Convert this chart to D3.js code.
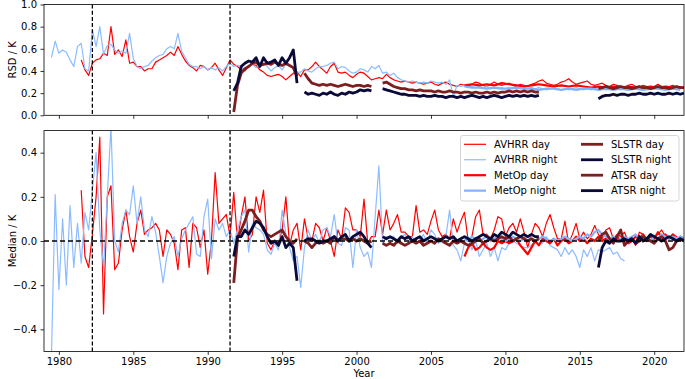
<!DOCTYPE html>
<html>
<head>
<meta charset="utf-8">
<script src="https://cdn.jsdelivr.net/npm/d3@7"></script>
<style>
  body { margin: 0; background: #fff; }
  svg { font-family: "DejaVu Sans", sans-serif; }
</style>
</head>
<body>
<div id="chart"></div>
<script>
// quarterly samples, x = start + i * step (years)
const xTicks = [1980, 1985, 1990, 1995, 2000, 2005, 2010, 2015, 2020];
const rsdTicks = [0, 0.2, 0.4, 0.6, 0.8, 1.0];
const medianTicks = [-0.4, -0.2, 0, 0.2, 0.4];
const splitYears = [1982.25, 1991.5];

// ---- RSD (top panel) ----
const avhrrDayRsd = [
  0.50, 0.41,
  0.36, 0.47, 0.50, 0.51,  0.56, 0.54, 0.80, 0.55,  0.59, 0.53, 0.68, 0.47,
  0.48, 0.44, 0.44, 0.40,  0.42, 0.42, 0.48, 0.50,  0.52, 0.54, 0.57, 0.54,
  0.62, 0.55, 0.49, 0.45,  0.43, 0.40, 0.45, 0.44,  0.41, 0.43, 0.47, 0.41,
  0.36, 0.43, 0.50, 0.46,  0.44, 0.41, 0.40, 0.44,  0.46, 0.45, 0.41, 0.39,
  0.36, 0.35, 0.36, 0.37,  0.35, 0.32, 0.35, 0.38,  0.39, 0.35, 0.41, 0.41,
  0.44, 0.48, 0.44, 0.41,  0.38, 0.44, 0.47, 0.39,  0.38, 0.39, 0.36, 0.34,
  0.37, 0.39, 0.38, 0.35,  0.32, 0.33, 0.34, 0.33,  0.37, 0.34, 0.32, 0.31,
  0.30, 0.31, 0.30, 0.29,  0.30, 0.29, 0.28, 0.29,  0.30, 0.28, 0.27, 0.29,
  0.30, 0.28, 0.27, 0.26,  0.28, 0.27, 0.26, 0.28,  0.30, 0.29, 0.27, 0.26,
  0.28, 0.30, 0.28, 0.27,  0.28, 0.29, 0.27, 0.26,  0.28, 0.27, 0.26, 0.28,
  0.29, 0.31, 0.32, 0.29,  0.28, 0.27, 0.28, 0.30,  0.31, 0.33, 0.30, 0.28,
  0.29, 0.30, 0.31, 0.28,  0.27, 0.28, 0.29, 0.27,  0.26, 0.28, 0.27, 0.26,
  0.25, 0.27, 0.28, 0.26,  0.25, 0.27, 0.26, 0.25,  0.26, 0.28, 0.26, 0.25,
  0.26, 0.27, 0.25, 0.26,  0.25
];
const avhrrNightRsd = [
  0.52, 0.67,
  0.56, 0.59, 0.57, 0.50,  0.44, 0.62, 0.65, 0.42,  0.40, 0.77, 0.62, 0.80,
  0.55, 0.63, 0.64, 0.59,  0.56, 0.58, 0.56, 0.74,  0.51, 0.44, 0.42, 0.44,
  0.45, 0.49, 0.52, 0.54,  0.55, 0.60, 0.62, 0.60,  0.74, 0.58, 0.52, 0.46,
  0.44, 0.44, 0.42, 0.44,  0.41, 0.43, 0.41, 0.43,  0.40, 0.44, 0.47, 0.44,
  0.45, 0.44, 0.41, 0.44,  0.46, 0.43, 0.45, 0.47,  0.44, 0.40, 0.43, 0.45,
  0.41, 0.46, 0.45, 0.42,  0.39, 0.39, 0.42, 0.40,  0.39, 0.42, 0.44, 0.44,
  0.45, 0.47, 0.48, 0.42,  0.44, 0.43, 0.40, 0.38,  0.39, 0.42, 0.41, 0.39,
  0.44, 0.42, 0.45, 0.38,  0.39, 0.36, 0.38, 0.34,  0.32, 0.31, 0.30, 0.31,
  0.30, 0.29, 0.30, 0.29,  0.31, 0.30, 0.29, 0.30,  0.28, 0.32, 0.17, 0.27,
  0.26, 0.27, 0.25, 0.26,  0.27, 0.26, 0.25, 0.26,  0.24, 0.25, 0.24, 0.25,
  0.24, 0.25, 0.24, 0.25,  0.24, 0.25, 0.24, 0.25,  0.24, 0.25, 0.24, 0.23,
  0.24, 0.25, 0.24, 0.23,  0.24, 0.23, 0.24, 0.25,  0.24, 0.23, 0.24, 0.23,
  0.24, 0.25, 0.24, 0.23,  0.24, 0.25, 0.24, 0.23,  0.24
];
const metopDayRsd = [
  0.27, 0.28, 0.27, 0.28, 0.27, 0.29, 0.28, 0.27, 0.26, 0.27,
  0.28, 0.27, 0.26, 0.27, 0.26, 0.27, 0.26, 0.25, 0.26, 0.25,
  0.26, 0.25, 0.26, 0.25, 0.25, 0.26, 0.25, 0.26, 0.25, 0.25
];
const metopNightRsd = [
  0.26, 0.25, 0.25, 0.24, 0.25, 0.24, 0.24, 0.25, 0.24, 0.24,
  0.23, 0.24, 0.24, 0.23, 0.24, 0.23, 0.24, 0.24, 0.23, 0.24,
  0.23, 0.24, 0.23, 0.24, 0.23, 0.24, 0.24, 0.23, 0.24, 0.23
];
const atsrDayRsd = [
  0.03,
  0.27, 0.38, 0.42, 0.44,  0.47, 0.48, 0.45, 0.46,  0.47, 0.46, 0.48, 0.46,
  0.45, 0.47, 0.45, 0.43,  0.35, null, 0.38, 0.33,  0.29, 0.28, 0.27, 0.28,
  0.27, 0.28, 0.27, 0.26,  0.27, 0.28, 0.27, 0.26,  0.27, 0.27, 0.26, 0.27,
  0.26, null, null, 0.29,  0.30, 0.28, 0.26, 0.25,  0.24, 0.24, 0.23, 0.23,
  0.22, 0.23, 0.22, 0.22,  0.22, 0.21, 0.22, 0.21,  0.21, 0.22, 0.21, 0.21,
  0.20, 0.21, 0.21, 0.20,  0.21, 0.20, 0.20, 0.21,  0.20, 0.21, 0.20, 0.21,
  0.21, 0.22, 0.21, 0.22,  0.21, 0.22, 0.21, 0.22,  0.21, 0.21
];
const atsrNightRsd = [
  0.22,
  0.29, 0.44, 0.47, 0.49,  0.48, 0.52, 0.44, 0.52,  0.47, 0.48, 0.50, 0.45,
  0.52, 0.47, 0.52, 0.59,  0.29, null, 0.21, 0.19,  0.20, 0.19, 0.18, 0.20,
  0.19, 0.21, 0.19, 0.18,  0.20, 0.19, 0.21, 0.20,  0.21, 0.23, 0.22, 0.23,
  0.22, null, null, 0.24,  0.23, 0.22, 0.21, 0.20,  0.19, 0.19, 0.18, 0.18,
  0.18, 0.17, 0.18, 0.17,  0.17, 0.18, 0.17, 0.17,  0.16, 0.17, 0.17, 0.16,
  0.17, 0.16, 0.17, 0.18,  0.17, 0.16, 0.17, 0.16,  0.17, 0.18, 0.17, 0.16,
  0.17, 0.18, 0.17, 0.18,  0.17, 0.18, 0.17, 0.18,  0.17, 0.18
];
const slstrDayRsd = [
  0.24, 0.25, 0.26, 0.25, 0.24, 0.25, 0.26, 0.25, 0.25, 0.24, 0.25, 0.26,
  0.25, 0.25, 0.24, 0.25, 0.26, 0.25, 0.25, 0.24, 0.25, 0.26, 0.25, 0.25
];
const slstrNightRsd = [
  0.15, 0.17, 0.18, 0.18, 0.19, 0.18, 0.19, 0.19, 0.18, 0.19, 0.19, 0.20,
  0.19, 0.19, 0.20, 0.19, 0.20, 0.19, 0.19, 0.20, 0.19, 0.20, 0.19, 0.20
];

// ---- Median (bottom panel) ----
const avhrrDayMedian = [
  0.23, -0.07,
  -0.12, 0.03, 0.20, 0.47,  -0.33, 0.20, 0.25, -0.13,  -0.10, 0.05, 0.14, 0.02,
  -0.05, 0.08, 0.14, 0.03,  0.05, 0.06, 0.08, 0.05,  -0.07, 0.05, 0.03, -0.01,
  -0.13, 0.05, 0.06, -0.12,  0.08, 0.06, -0.03, 0.05,  -0.15, 0.00, 0.31, 0.08,
  0.10, 0.12, 0.02, 0.22,  0.00, 0.11, 0.20, 0.00,  0.03, 0.20, 0.13, 0.23,
  -0.01, -0.04, 0.00, -0.01,  0.05, 0.20, -0.02, 0.05,  0.08, -0.04, 0.10, 0.01,
  0.00, 0.08, 0.06, 0.00,  0.06, 0.00, -0.07, 0.05,  0.01, 0.15, 0.13, 0.05,
  0.05, 0.02, 0.19, -0.01,  0.02, 0.02, 0.14, 0.03,  0.14, 0.05, 0.08, 0.12,
  0.04, 0.04, 0.02, 0.02,  0.16, 0.04, 0.05, 0.03,  0.09, 0.14, 0.05, 0.02,
  0.03, 0.01, 0.10, 0.04,  0.09, 0.13, 0.00, 0.02,  0.11, 0.14, 0.03, 0.03,
  0.01, 0.05, 0.11, 0.10,  0.02, 0.06, 0.08, 0.04,  0.10, 0.04, -0.03, 0.03,
  0.08, 0.06, 0.02, 0.08,  0.12, 0.06, 0.01, 0.01,  0.09, -0.01, 0.03, 0.08,
  0.01, 0.04, 0.01, 0.03,  0.07, 0.03, 0.01, 0.05,  0.06, 0.01, 0.03, 0.02,
  0.04, 0.00, 0.01, -0.02,  0.04, 0.03, 0.01, 0.02,  0.02, 0.03, 0.05, 0.02,
  0.01, 0.03, 0.02, 0.00,  0.01
];
const avhrrNightMedian = [
  -0.52, 0.21,
  -0.22, 0.10, -0.20, 0.16,  -0.12, 0.08, -0.10, 0.13,  0.05, 0.23, 0.40, 0.05,
  -0.12, 0.20, 0.52, 0.00,  -0.05, 0.08, 0.14, 0.12,  0.25, 0.08, 0.20, 0.05,
  0.02, 0.11, 0.04, -0.07,  -0.19, -0.07, -0.01, 0.02,  -0.07, 0.01, 0.05, 0.08,
  0.11, -0.06, -0.07, 0.11,  0.19, -0.08, 0.10, 0.05,  0.08, 0.02, 0.05, -0.01,
  0.05, 0.11, 0.14, -0.05,  0.08, 0.06, 0.05, 0.03,  -0.04, -0.06, -0.01, -0.04,
  0.14, 0.03, -0.03, -0.09,  -0.07, -0.21, -0.03, 0.05,  0.00, 0.03, -0.01, 0.05,
  0.06, 0.02, 0.12, -0.01,  -0.02, 0.06, 0.05, -0.12,  0.05, -0.03, -0.07, -0.05,
  -0.12, 0.11, 0.34, -0.01,  0.02, 0.01, 0.02, -0.01,  0.02, 0.03, 0.00, 0.02,
  -0.01, 0.00, 0.03, -0.01,  0.05, 0.03, -0.01, 0.00,  0.02, 0.14, -0.02, -0.04,
  -0.09, -0.01, 0.02, -0.04,  0.00, -0.07, -0.04, -0.01,  -0.07, -0.03, -0.09, -0.03,
  -0.04, -0.01, 0.00, -0.01,  -0.02, -0.03, -0.03, -0.02,  0.00, -0.01, -0.01, 0.02,
  -0.02, -0.03, -0.04, -0.07,  -0.03, -0.06, -0.04, -0.07,  -0.12, -0.04, -0.07, -0.03,
  -0.09, -0.04, -0.05, -0.04,  -0.03, -0.06, -0.05, -0.08,  -0.09
];
const metopDayMedian = [
  -0.07, -0.03, -0.01,
  -0.04, -0.03, -0.01, -0.03,  -0.04, -0.03, 0.00, -0.01,  0.00, -0.01, 0.00, 0.01,
  -0.02, -0.04, -0.06, -0.03,  0.00, -0.02, 0.01, 0.00,  -0.01, 0.01, -0.02, 0.00,
  0.01, -0.01, 0.00, 0.02,  0.00, 0.01, -0.01, 0.01,  0.00, 0.02, 0.00, 0.01,
  -0.01, 0.01, 0.02, 0.00,  0.01, -0.01, 0.00, 0.02,  0.01, 0.03, 0.00, 0.02,
  0.01, 0.04, 0.02, 0.03,  0.01, 0.03, 0.00, 0.02,  0.01
];
const metopNightMedian = [
  0.01, 0.00, 0.02,
  0.01, 0.00, 0.01, 0.02,  0.00, 0.01, 0.02, 0.01,  0.00, 0.01, 0.02, 0.01,
  0.00, 0.01, 0.02, 0.01,  0.00, 0.01, 0.02, 0.01,  0.00, 0.01, 0.00, 0.01,
  0.02, 0.01, 0.00, 0.01,  0.02, 0.01, 0.03, 0.02,  0.04, 0.05, 0.03, 0.02,
  0.01, 0.02, 0.00, 0.01,  0.02, 0.01, 0.02, 0.03,  0.01, 0.02, 0.01, 0.00,
  0.02, 0.01, 0.03, 0.02,  0.01, 0.02, 0.01, 0.02,  0.01
];
const atsrDayMedian = [
  -0.19,
  0.01, 0.05, 0.09, 0.14,  0.14, 0.11, 0.09, 0.05,  0.03, 0.02, 0.03, 0.04,
  0.05, 0.02, 0.00, -0.01,  0.01, null, 0.00, -0.01,  -0.03, -0.01, 0.00, -0.01,
  0.00, -0.01, 0.02, 0.00,  0.01, 0.01, 0.00, 0.01,  0.00, 0.01, 0.00, -0.01,
  0.00, null, null, -0.01,  -0.02, -0.01, -0.02, 0.00,  -0.01, -0.02, -0.01, 0.00,
  -0.01, 0.00, -0.02, -0.01,  0.00, -0.01, 0.01, 0.00,  -0.01, -0.02, 0.00, -0.01,
  0.00, -0.01, -0.02, -0.01,  0.00, 0.01, -0.01, 0.00,  0.01, 0.00, 0.01, 0.02,
  0.01, 0.02, 0.00, 0.01,  0.02, 0.01, 0.00, 0.01,  0.00, 0.01
];
const atsrNightMedian = [
  -0.07,
  0.02, 0.02, 0.05, 0.03,  0.06, 0.09, 0.08, 0.06,  0.02, -0.01, 0.00, -0.02,
  0.02, -0.03, -0.01, -0.03,  -0.18, null, 0.00, 0.01,  0.01, 0.00, -0.01, 0.00,
  0.00, 0.01, 0.02, 0.00,  0.02, 0.03, 0.00, 0.02,  0.03, 0.04, 0.02, -0.01,
  -0.03, null, null, 0.02,  0.01, 0.02, 0.01, 0.00,  0.02, 0.01, 0.02, 0.00,
  0.01, 0.02, 0.00, 0.01,  0.02, 0.01, 0.00, 0.01,  0.02, 0.01, 0.02, 0.00,
  0.01, 0.02, 0.01, 0.00,  0.01, 0.02, 0.03, 0.02,  0.01, 0.03, 0.02, 0.04,
  0.03, 0.02, 0.04, 0.03,  0.02, 0.03, 0.02, 0.03,  0.02, 0.02
];
const slstrDayMedian = [
  0.00, 0.03, 0.04,  0.01, -0.01, 0.02, 0.05,  -0.02, 0.00, 0.01, -0.01,
  0.00, 0.02, 0.01, 0.00,  -0.01, 0.01, 0.02, 0.00,  -0.04, -0.03, 0.00, 0.01,  0.00
];
const slstrNightMedian = [
  -0.12, -0.03, 0.00,  -0.01, 0.01, 0.00, 0.00,  0.01, 0.00, 0.01, -0.01,
  0.02, 0.00, 0.01, 0.03,  0.02, 0.01, 0.00, 0.01,  0.02, 0.01, 0.00, 0.01,  0.00
];

function samples(start, step, values) {
  return values.map((v, i) => ({ x: start + i * step, y: v }));
}

const red = "#ff0000", lightBlue = "#8cbcff", metopBlue = "#7fb3ff",
      darkRed = "#7d1f1f", navy = "#0a0a3a";

const series = [
  { name: "AVHRR day",   color: red,       width: 1.2, top: samples(1981.5, 0.25, avhrrDayRsd),    bottom: samples(1981.5, 0.25, avhrrDayMedian) },
  { name: "AVHRR night", color: lightBlue, width: 1.2, top: samples(1979.5, 0.25, avhrrNightRsd),  bottom: samples(1979.5, 0.25, avhrrNightMedian) },
  { name: "MetOp day",   color: red,       width: 2.2, top: samples(2007.25, 0.5, metopDayRsd),    bottom: samples(2007.25, 0.25, metopDayMedian) },
  { name: "MetOp night", color: metopBlue, width: 2.2, top: samples(2007.25, 0.5, metopNightRsd),  bottom: samples(2007.25, 0.25, metopNightMedian) },
  { name: "SLSTR day",   color: darkRed,   width: 2.8, top: samples(2016.25, 0.25, slstrDayRsd),   bottom: samples(2016.25, 0.25, slstrDayMedian) },
  { name: "SLSTR night", color: navy,      width: 2.8, top: samples(2016.25, 0.25, slstrNightRsd), bottom: samples(2016.25, 0.25, slstrNightMedian) },
  { name: "ATSR day",    color: darkRed,   width: 2.8, top: samples(1991.75, 0.25, atsrDayRsd),    bottom: samples(1991.75, 0.25, atsrDayMedian) },
  { name: "ATSR night",  color: navy,      width: 2.8, top: samples(1991.75, 0.25, atsrNightRsd),  bottom: samples(1991.75, 0.25, atsrNightMedian) }
];

const width = 685, height = 379;
const left = 44, right = 684;

const svg = d3.select("#chart").append("svg")
    .attr("width", width)
    .attr("height", height);

const x = d3.scaleLinear().domain([1979, 2022]).range([left, right]);

const panels = [
  { key: "top",    y: d3.scaleLinear().domain([0, 1]).range([115.3, 4.5]),       ticks: rsdTicks,    label: "RSD / K",    showX: false },
  { key: "bottom", y: d3.scaleLinear().domain([-0.5, 0.5]).range([351.4, 130.6]), ticks: medianTicks, label: "Median / K", showX: true }
];

panels.forEach(function(p) {
  const y0 = p.y.range()[1], y1 = p.y.range()[0];
  const g = svg.append("g");

  const clipId = "clip-" + p.key;
  svg.append("clipPath").attr("id", clipId)
    .append("rect")
      .attr("x", left).attr("y", y0)
      .attr("width", right - left).attr("height", y1 - y0);

  const plot = g.append("g").attr("clip-path", "url(#" + clipId + ")");

  const line = d3.line()
      .defined(d => d.y != null)
      .x(d => x(d.x))
      .y(d => p.y(d.y));

  series.forEach(function(s) {
    plot.append("path")
        .datum(s[p.key])
        .attr("d", line)
        .attr("fill", "none")
        .attr("stroke", s.color)
        .attr("stroke-width", s.width)
        .attr("stroke-linejoin", "round");
  });

  // instrument change markers
  splitYears.forEach(function(yr) {
    plot.append("line")
        .attr("x1", x(yr)).attr("x2", x(yr))
        .attr("y1", y0).attr("y2", y1)
        .attr("stroke", "#000")
        .attr("stroke-width", 1.3)
        .attr("stroke-dasharray", "4,2.2");
  });

  if (p.key === "bottom") {
    plot.append("line")
        .attr("x1", left).attr("x2", right)
        .attr("y1", p.y(0)).attr("y2", p.y(0))
        .attr("stroke", "#000")
        .attr("stroke-width", 1.3)
        .attr("stroke-dasharray", "5,3");
  }

  const yAxis = g.append("g")
      .attr("transform", `translate(${left},0)`)
      .call(d3.axisLeft(p.y).tickValues(p.ticks).tickFormat(d3.format(".1f")).tickSize(3.5).tickPadding(3.5));
  yAxis.select(".domain").remove();

  const xAxis = g.append("g")
      .attr("transform", `translate(0,${y1})`)
      .call(d3.axisBottom(x).tickValues(xTicks).tickFormat(p.showX ? d3.format("d") : "").tickSize(3.5).tickPadding(3.5));
  xAxis.select(".domain").remove();

  [yAxis, xAxis].forEach(a => {
    a.selectAll("text").attr("font-size", 10).attr("font-family", "DejaVu Sans").attr("fill", "#000");
    a.selectAll("line").attr("stroke", "#000").attr("stroke-width", 0.8);
  });

  g.append("rect")
      .attr("x", left).attr("y", y0)
      .attr("width", right - left).attr("height", y1 - y0)
      .attr("fill", "none")
      .attr("stroke", "#000")
      .attr("stroke-width", 0.8);

  g.append("text")
      .attr("transform", `translate(16,${(y0 + y1) / 2}) rotate(-90)`)
      .attr("text-anchor", "middle")
      .attr("font-size", 10)
      .text(p.label);
});

svg.append("text")
    .attr("x", (left + right) / 2)
    .attr("y", 377)
    .attr("text-anchor", "middle")
    .attr("font-size", 10)
    .text("Year");

// legend
const legend = svg.append("g");
legend.append("rect")
    .attr("x", 460.5).attr("y", 135.5)
    .attr("width", 218.5).attr("height", 65.5)
    .attr("rx", 2.5)
    .attr("fill", "#fff").attr("fill-opacity", 0.8)
    .attr("stroke", "#ccc").attr("stroke-width", 0.8);

series.forEach(function(s, i) {
  const col = Math.floor(i / 4), row = i % 4;
  const lx = col === 0 ? 464 : 581;
  const ly = 144.3 + row * 15.45;
  legend.append("line")
      .attr("x1", lx).attr("x2", lx + 22)
      .attr("y1", ly).attr("y2", ly)
      .attr("stroke", s.color)
      .attr("stroke-width", s.width);
  legend.append("text")
      .attr("x", lx + 30)
      .attr("y", ly)
      .attr("dy", "0.35em")
      .attr("font-size", 10)
      .text(s.name);
});
</script>
</body>
</html>
